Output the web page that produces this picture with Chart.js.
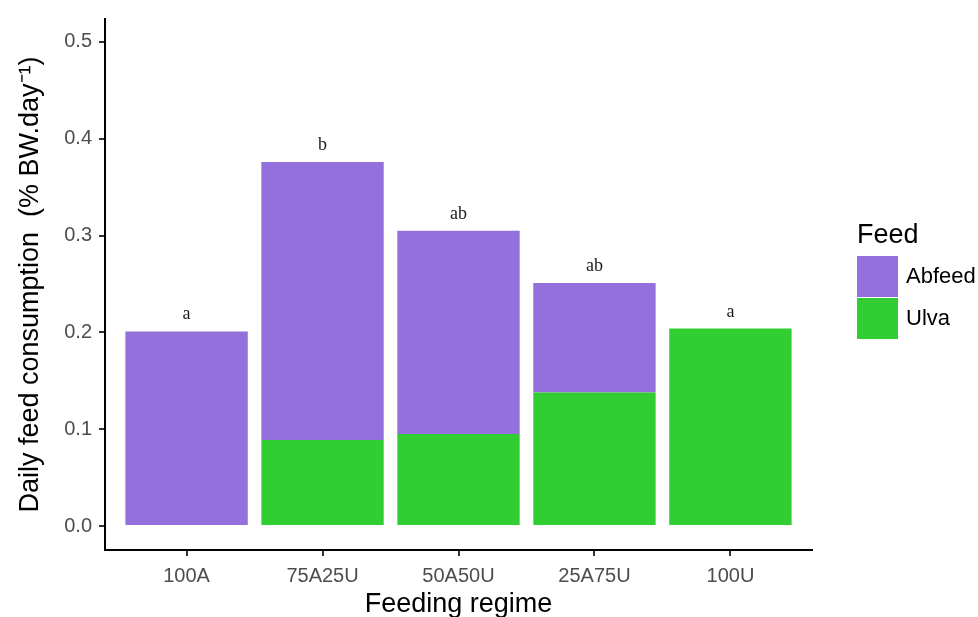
<!DOCTYPE html>
<html>
<head>
<meta charset="utf-8">
<script src="https://cdn.jsdelivr.net/npm/chart.js@4"></script>
<style>
    html, body { margin: 0; padding: 0; background: #ffffff; }
    #wrap { width: 978px; height: 617px; position: relative; }
</style>
</head>
<body>
<div id="wrap"><canvas id="feedChart"></canvas></div>
<script>
// Feeding regimes and per-feed consumption (% BW.day-1)
const categories = ['100A', '75A25U', '50A50U', '25A75U', '100U'];
const ulvaValues = [0, 0.089, 0.095, 0.138, 0.204];
const abfeedValues = [0.201, 0.287, 0.210, 0.113, 0];
const groupLetters = ['a', 'b', 'ab', 'ab', 'a'];
const yTicks = [0.0, 0.1, 0.2, 0.3, 0.4, 0.5];

const purple = '#9370DB';
const green = '#32CD32';
const sans = '"Liberation Sans", Arial, Helvetica, sans-serif';

// Significance letters above each stacked bar
const letterPlugin = {
    id: 'letters',
    afterDatasetsDraw(chart) {
        const ctx = chart.ctx;
        const xs = chart.scales.x;
        const ys = chart.scales.y;
        ctx.save();
        ctx.font = '18px "Liberation Serif", "DejaVu Serif", serif';
        ctx.fillStyle = '#1a1a1a';
        ctx.textAlign = 'center';
        ctx.textBaseline = 'alphabetic';
        categories.forEach(function (c, i) {
            const total = ulvaValues[i] + abfeedValues[i];
            ctx.fillText(groupLetters[i], xs.getPixelForValue(i + 1), ys.getPixelForValue(total) - 12);
        });
        ctx.restore();
    }
};

// ggplot-like legend on the right
const legendPlugin = {
    id: 'feedLegend',
    afterDraw(chart) {
        const ctx = chart.ctx;
        const left = chart.chartArea.right + 45;
        ctx.save();
        ctx.fillStyle = '#000000';
        ctx.font = '27px ' + sans;
        ctx.textBaseline = 'middle';
        ctx.textAlign = 'left';
        ctx.fillText('Feed', left, 236);
        const items = chart.data.datasets.slice().reverse();
        items.forEach(function (ds, i) {
            const top = 256 + i * 42;
            ctx.fillStyle = ds.backgroundColor;
            ctx.fillRect(left, top, 41, 41);
            ctx.fillStyle = '#000000';
            ctx.font = '22px ' + sans;
            ctx.fillText(ds.label, left + 49, top + 21);
        });
        ctx.restore();
    }
};

const ctx = document.getElementById('feedChart').getContext('2d');
new Chart(ctx, {
    type: 'bar',
    data: {
        datasets: [
            {
                label: 'Ulva',
                data: categories.map((c, i) => ({ x: i + 1, y: ulvaValues[i] })),
                backgroundColor: green,
                borderWidth: 0,
                barPercentage: 0.9,
                categoryPercentage: 1
            },
            {
                label: 'Abfeed',
                data: categories.map((c, i) => ({ x: i + 1, y: abfeedValues[i] })),
                backgroundColor: purple,
                borderWidth: 0,
                barPercentage: 0.9,
                categoryPercentage: 1
            }
        ]
    },
    options: {
        responsive: true,
        maintainAspectRatio: false,
        animation: false,
        layout: {
            padding: { left: 0, right: 166, top: 18, bottom: 0 }
        },
        plugins: {
            legend: { display: false },
            tooltip: { enabled: false }
        },
        scales: {
            x: {
                type: 'linear',
                stacked: true,
                offset: false,
                min: 0.4,
                max: 5.6,
                afterBuildTicks: function (scale) {
                    scale.ticks = categories.map((c, i) => ({ value: i + 1 }));
                },
                afterFit: function (scale) {
                    scale.height = 67;
                },
                ticks: {
                    color: '#4d4d4d',
                    font: { family: sans, size: 20 },
                    padding: 8,
                    maxRotation: 0,
                    callback: function (value) {
                        return categories[value - 1];
                    }
                },
                grid: {
                    offset: false,
                    drawOnChartArea: false,
                    drawTicks: true,
                    tickLength: 6,
                    color: '#333333',
                    lineWidth: 2
                },
                border: { display: true, color: '#000000', width: 2 },
                title: {
                    display: true,
                    text: 'Feeding regime',
                    color: '#000000',
                    font: { family: sans, size: 27 },
                    padding: { top: 0, bottom: -4 }
                }
            },
            y: {
                stacked: true,
                min: -0.0247,
                max: 0.5237,
                afterBuildTicks: function (scale) {
                    scale.ticks = yTicks.map(v => ({ value: v }));
                },
                afterFit: function (scale) {
                    scale.width = 105;
                },
                ticks: {
                    color: '#4d4d4d',
                    font: { family: sans, size: 20 },
                    padding: 7,
                    callback: function (value) {
                        return Number(value).toFixed(1);
                    }
                },
                grid: {
                    drawOnChartArea: false,
                    drawTicks: true,
                    tickLength: 6,
                    color: '#333333',
                    lineWidth: 2
                },
                border: { display: true, color: '#000000', width: 2 },
                title: {
                    display: true,
                    text: 'Daily feed consumption  (% BW.day\u207B\u00B9)',
                    color: '#000000',
                    font: { family: sans, size: 27 },
                    padding: { top: 14, bottom: 0 }
                }
            }
        }
    },
    plugins: [letterPlugin, legendPlugin]
});
</script>
</body>
</html>
